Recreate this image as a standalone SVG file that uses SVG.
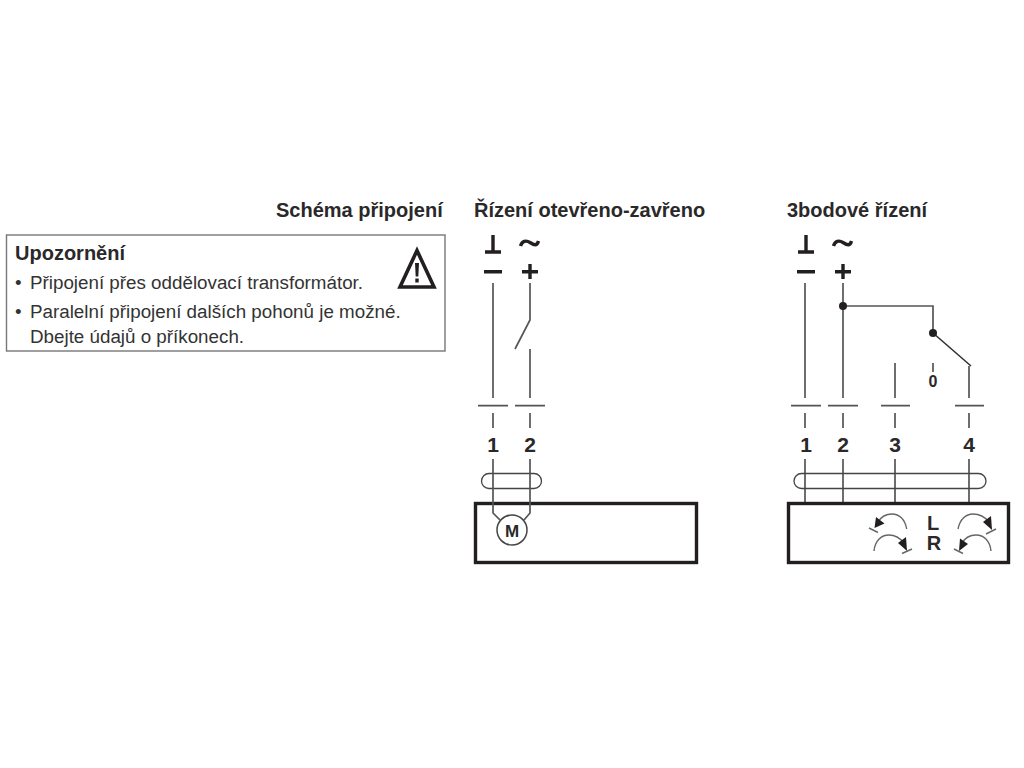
<svg xmlns="http://www.w3.org/2000/svg" width="1024" height="768" viewBox="0 0 1024 768">
<style>
text{font-family:"Liberation Sans",Arial,sans-serif;fill:#2a2829}
.b{font-weight:700}
.h{font-size:20px;font-weight:700}
.t{font-size:18.800px;fill:#333}
.n{font-size:21px;font-weight:700;text-anchor:middle}
.w{fill:none;stroke:#555;stroke-width:1.700}
.k{fill:none;stroke:#333;stroke-width:1.600}
.s{fill:none;stroke:#231f20;stroke-width:3.400}
.box{fill:#fff;stroke:#231f20;stroke-width:3.400}
.d{fill:#231f20}
.a{fill:none;stroke:#666;stroke-width:1.400}
</style>
<rect width="1024" height="768" fill="#fff"/>
<text id="title-main" class="h" x="276" y="217">Schéma připojení</text>
<text id="title-open" class="h" x="474" y="217">Řízení otevřeno-zavřeno</text>
<text id="title-3pt" class="h" x="787" y="217">3bodové řízení</text>
<g id="notice">
<rect x="6.500" y="235" width="438.500" height="116" fill="#fff" stroke="#777" stroke-width="1.400"/>
<text class="b" x="15" y="259.500" font-size="20">Upozornění</text>
<text class="t" x="15" y="288.500">•</text><text class="t" x="30" y="288.500">Připojení přes oddělovací transformátor.</text>
<text class="t" x="15" y="317.500">•</text><text class="t" x="30" y="317.500">Paralelní připojení dalších pohonů je možné.</text>
<text class="t" x="30" y="343">Dbejte údajů o příkonech.</text>
<path d="M417 250.500L434 287H400Z" fill="none" stroke="#231f20" stroke-width="3.600" stroke-linejoin="miter"/>
<path d="M415 263h4l-.7 13.500h-2.600zM415.300 278.500h3.400v4h-3.400z" class="d"/>
</g>
<g id="connectors">
<path class="w" d="M493 283V398M530 283V320L515 349M530 349V398M478 405.700H508M515 405.700H545M493 413V428M530 413V428"/>
<path class="w" d="M493 459V473M530 459V473"/>
<path class="w" d="M805 283V398M843 283V398M895 363V398M969 366V398M791 405.700H821M828 405.700H858M881 405.700H910M955 405.700H984M805 413V428M843 413V428M895 413V428M969 413V428"/>
<path class="w" d="M805 459V502M843 459V502M895 459V502M969 459V502"/>
<path class="w" d="M843 306H933V333M933 363V372"/>
<path class="k" d="M933 333L971 366"/>
<circle class="d" cx="843" cy="306" r="4"/><circle class="d" cx="933" cy="333" r="4"/>
</g>
<g id="supply-left">
<path class="s" d="M493 235V252M485 252H501M484 271.700H502M530 264V279M522 271.700H538"/>
<path class="s" d="M520.500 246C522 241 526 240 530 242.500S537 246.500 538.500 241"/>
</g>
<g id="supply-right">
<path class="s" d="M806 235V252M798 252H814M797 271.700H815M843 264V279M835 271.700H851"/>
<path class="s" d="M833.500 246C835 241 839 240 843 242.500S850 246.500 851.500 241"/>
</g>
<g id="actuator-left">
<rect class="box" x="475.500" y="503.500" width="221" height="59"/>
<rect x="481.500" y="473.500" width="60" height="15" rx="7.500" fill="none" stroke="#444" stroke-width="1.300"/>
<path class="w" d="M493 473V513L500 520M530 473V513L524 520"/>
<circle cx="512" cy="530" r="15" fill="#fff" stroke="#444" stroke-width="1.500"/>
<text class="b" x="512" y="537" font-size="17" text-anchor="middle">M</text>
</g>
<g id="actuator-right">
<rect class="box" x="788.500" y="503.500" width="220" height="59"/>
<rect x="794" y="473.500" width="192" height="15" rx="7.500" fill="none" stroke="#444" stroke-width="1.300"/>
<path class="a" d="M906.700 529C905 519 899 514 892 514C886 514 881 517 878 522"/>
<path class="d" d="M874.500 528L876 517L884.500 523.500Z"/>
<path class="a" d="M869 528L878 532.500"/>
<path class="a" d="M874 551C875 541 881 535 889 535C895 535 900 538 904 543"/>
<path class="d" d="M907 551L898 543L906 537Z"/>
<path class="a" d="M902 553.500L912 549"/>
<path class="a" d="M958 529C960 519 966 514 973 514C979 514 985 517 989 522"/>
<path class="d" d="M992 530L983 522L991 516Z"/>
<path class="a" d="M986 534L996 529"/>
<path class="a" d="M991 551C990 541 984 535 976 535C970 535 965 538 962 543"/>
<path class="d" d="M959 551L960 538.500L968 544Z"/>
<path class="a" d="M954 549L963 553.500"/>
<text class="b" x="933" y="530" font-size="20" text-anchor="middle">L</text>
<text class="b" x="934" y="550" font-size="20" text-anchor="middle">R</text>
</g>
<g id="labels">
<text class="n" x="493" y="452">1</text><text class="n" x="530" y="452">2</text>
<text class="n" x="806" y="452">1</text><text class="n" x="843" y="452">2</text><text class="n" x="895" y="452">3</text><text class="n" x="969" y="452">4</text>
<text class="b" x="933" y="387" font-size="16" text-anchor="middle">0</text>
</g>
</svg>
